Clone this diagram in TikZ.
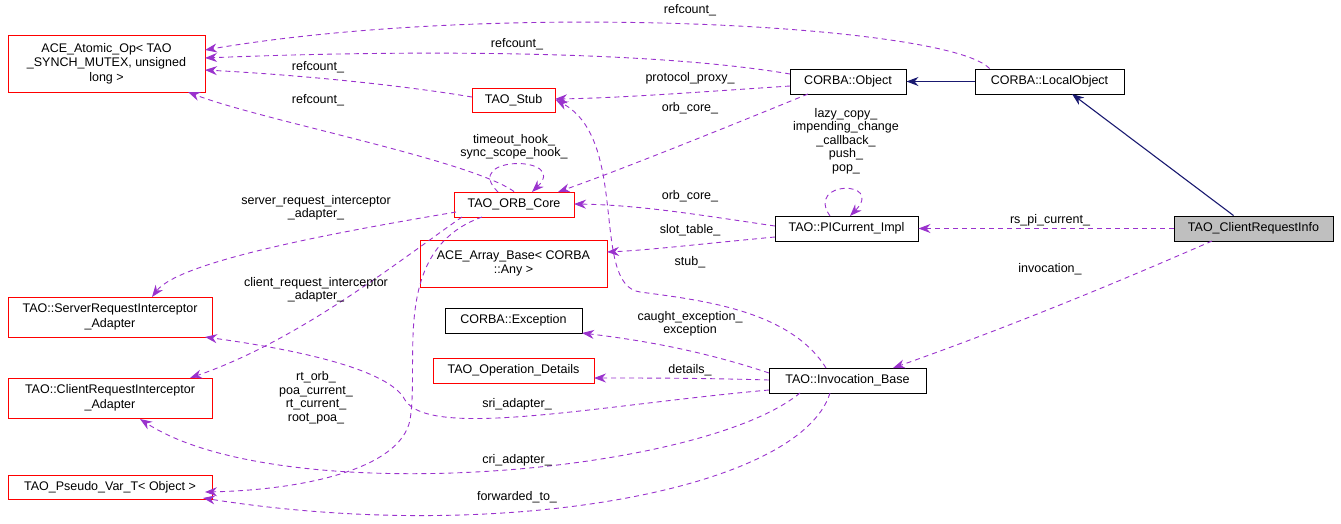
\documentclass[tikz,border=0pt]{standalone}
\usepackage{fontspec}
\setmainfont{Liberation Sans}
\usetikzlibrary{arrows.meta}
\definecolor{dep}{HTML}{9A32CD}
\definecolor{inh}{HTML}{191970}
\begin{document}
\begin{tikzpicture}[x=1pt,y=-1pt,
  box/.style={draw=#1,fill=white,inner sep=2pt,align=center,font=\fontsize{12.5}{14.5}\selectfont,line width=0.9pt},
  box/.default=black,
  red/.style={box=red},
  dep/.style={draw=dep,dashed,dash pattern=on 5pt off 4pt,line width=0.9pt,-{Stealth[length=12pt,width=9pt]}},
  inh/.style={draw=inh,line width=1.1pt,-{Stealth[length=12pt,width=9pt]}},
  lab/.style={font=\fontsize{12.5}{13.5}\selectfont,align=center,inner sep=0pt}]
\useasboundingbox (0,0) rectangle (1341,523);
\node[red,minimum width=197pt,minimum height=57pt] (ace) at (106.5,63.5) {ACE\_Atomic\_Op< TAO\\\_SYNCH\_MUTEX, unsigned\\long >};
\node[red,minimum width=83pt,minimum height=24pt] (stub) at (513.5,100) {TAO\_Stub};
\node[box,minimum width=116pt,minimum height=25pt] (obj) at (848,81.5) {CORBA::Object};
\node[box,minimum width=149pt,minimum height=25pt] (lo) at (1049.5,81.5) {CORBA::LocalObject};
\node[red,minimum width=120pt,minimum height=25pt] (orb) at (514,204.5) {TAO\_ORB\_Core};
\node[box,minimum width=143pt,minimum height=25pt] (pic) at (846.5,228.5) {TAO::PICurrent\_Impl};
\node[box,fill=black!25,minimum width=159pt,minimum height=25pt] (cri) at (1253.5,228.5) {TAO\_ClientRequestInfo};
\node[red,minimum width=187pt,minimum height=47pt] (arr) at (513.5,263.5) {ACE\_Array\_Base< CORBA\\::Any >};
\node[red,minimum width=204pt,minimum height=40pt] (sra) at (110,317) {TAO::ServerRequestInterceptor\\\_Adapter};
\node[box,minimum width=137pt,minimum height=25pt] (exc) at (513.5,320.5) {CORBA::Exception};
\node[red,minimum width=161pt,minimum height=25pt] (opd) at (513.5,370.5) {TAO\_Operation\_Details};
\node[box,minimum width=157pt,minimum height=25pt] (inv) at (847.5,380.5) {TAO::Invocation\_Base};
\node[red,minimum width=204pt,minimum height=40pt] (cra) at (110,398) {TAO::ClientRequestInterceptor\\\_Adapter};
\node[red,minimum width=204pt,minimum height=24pt] (psv) at (110,487) {TAO\_Pseudo\_Var\_T< Object >};

% inheritance
\draw[inh] (lo.west) -- (obj.east);
\draw[inh] (cri.north west)++(60,0) -- (1072,94);

% dependencies
\draw[dep] (lo.north)++(-60,0) .. controls (950,25) and (500,0) .. (205,50);
\draw[dep] (790,74) .. controls (650,50) and (400,50) .. (205,58);
\draw[dep] (472,97) .. controls (400,85) and (300,75) .. (205,70);
\draw[dep] (orb.north) .. controls (470,160) and (260,120) .. (188,92);
\draw[dep] (790,86) .. controls (700,92) and (620,98) .. (555,99);
\draw[dep] (808,94) .. controls (720,130) and (620,170) .. (558,192);
\draw[dep] (498,192) .. controls (460,155) and (570,155) .. (532,192);
\draw[dep] (775,226) .. controls (700,215) and (640,205) .. (574,204);
\draw[dep] (830,216) .. controls (805,180) and (885,180) .. (850,216);
\draw[dep] (cri.west) -- (pic.east);
\draw[dep] (775,237) .. controls (700,244) and (650,250) .. (607,252);
\draw[dep] (1212,241) .. controls (1100,290) and (1000,330) .. (893,368);
\draw[dep] (826,368) .. controls (790,310) and (700,300) .. (640,292) .. controls (590,285) and (630,140) .. (556,100);
\draw[dep] (769,373) .. controls (700,350) and (640,340) .. (582,333);
\draw[dep] (769,380) .. controls (700,378) and (650,378) .. (594,378);
\draw[dep] (769,390) .. controls (600,405) and (430,440) .. (405,400) .. controls (390,370) and (300,350) .. (205,337);
\draw[dep] (800,393) .. controls (700,475) and (280,510) .. (140,419);
\draw[dep] (830,393) .. controls (800,490) and (500,545) .. (203,498);
\draw[dep] (456,212) .. controls (350,230) and (180,260) .. (152,297);
\draw[dep] (462,217) .. controls (400,260) and (300,340) .. (190,378);
\draw[dep] (482,217) .. controls (390,250) and (420,360) .. (410,420) .. controls (400,470) and (300,490) .. (205,492);

% labels
\node[lab] (l1) at (690,10) {refcount\_};
\node[lab] (l2) at (517,44) {refcount\_};
\node[lab] (l3) at (318,67) {refcount\_};
\node[lab] (l4) at (318,100) {refcount\_};
\node[lab] (l5) at (690,78) {protocol\_proxy\_};
\node[lab] (l6) at (690,108) {orb\_core\_};
\node[lab] (l7) at (514,147) {timeout\_hook\_\\sync\_scope\_hook\_};
\node[lab] (l8) at (690,196) {orb\_core\_};
\node[lab] (l9) at (846,141) {lazy\_copy\_\\impending\_change\\\_callback\_\\push\_\\pop\_};
\node[lab] (l10) at (1050,220) {rs\_pi\_current\_};
\node[lab] (l11) at (690,230) {slot\_table\_};
\node[lab] (l12) at (1050,269) {invocation\_};
\node[lab] (l13) at (690,262) {stub\_};
\node[lab] (l14) at (690,324) {caught\_exception\_\\exception};
\node[lab] (l15) at (690,370) {details\_};
\node[lab] (l16) at (517,404) {sri\_adapter\_};
\node[lab] (l17) at (517,460) {cri\_adapter\_};
\node[lab] (l18) at (517,497) {forwarded\_to\_};
\node[lab] (l19) at (316,208) {server\_request\_interceptor\\\_adapter\_};
\node[lab] (l20) at (316,290) {client\_request\_interceptor\\\_adapter\_};
\node[lab] (l21) at (316,398) {rt\_orb\_\\poa\_current\_\\rt\_current\_\\root\_poa\_};
\end{tikzpicture}
\end{document}
